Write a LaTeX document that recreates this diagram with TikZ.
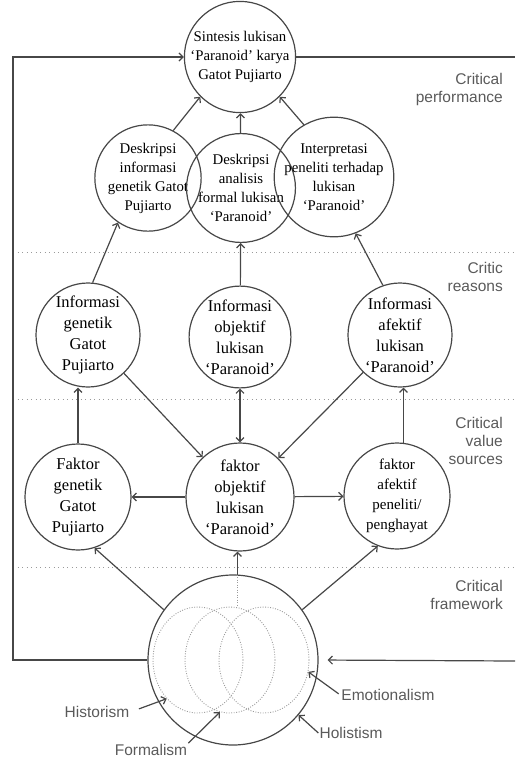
\documentclass[tikz,border=0pt]{standalone}
\usepackage{fontspec}
\setmainfont{Liberation Serif}
\newfontfamily\critfont{Liberation Sans}
\usetikzlibrary{shapes,arrows.meta}
\definecolor{linegray}{HTML}{474747}
\definecolor{labelgray}{HTML}{5A5A5A}
\definecolor{dotgray}{HTML}{9A9A9A}

\begin{document}
\begin{tikzpicture}[x=1pt,y=-1pt,
  ring/.style={shape=circle,draw=linegray,align=center,line width=1.2pt,inner sep=0pt,minimum size=#1},
  rowtop/.style={font=\fontsize{14.8}{19}\selectfont},
  rowlow/.style={font=\fontsize{16.5}{21}\selectfont},
  lens/.style={shape=ellipse,draw=dotgray,dash pattern=on 0.9pt off 1.6pt,line width=0.9pt,minimum width=90pt,minimum height=106pt,inner sep=0pt},
  sidelabel/.style={align=right,anchor=east,inner sep=0pt,text=labelgray,font=\critfont\fontsize{15.5}{18}\selectfont},
  taglabel/.style={inner sep=1pt,text=labelgray,font=\critfont\fontsize{15.5}{18}\selectfont},
  flow/.style={-{Straight Barb[length=4pt,width=8pt]},draw=linegray,line width=1.2pt},
  twoway/.style={{Straight Barb[length=4pt,width=8pt]}-{Straight Barb[length=4pt,width=8pt]},draw=linegray,line width=1.2pt},
  link/.style={-,draw=linegray,line width=1.2pt},
  sep/.style={draw=dotgray,dash pattern=on 1.2pt off 3.3pt,line width=1pt}]
\useasboundingbox (0,0) rectangle (515,758);
\node[ring=100pt,rowtop] (0) at (240,57) {Sintesis lukisan\\`Paranoid' karya\\Gatot Pujiarto};
\node[ring=102pt,rowtop] (1) at (148,178) {Deskripsi\\informasi\\genetik Gatot\\Pujiarto};
\node[ring=100pt,rowtop] (2) at (241,188) {Deskripsi\\analisis\\formal lukisan\\`Paranoid'};
\node[ring=102pt,rowtop] (3) at (334,177) {Interpretasi\\peneliti terhadap\\lukisan\\`Paranoid'};
\node[ring=104pt,rowlow] (4) at (88,335) {Informasi\\genetik\\Gatot\\Pujiarto};
\node[ring=100pt,rowlow] (5) at (240,337) {Informasi\\objektif\\lukisan\\`Paranoid'};
\node[ring=104pt,rowlow] (6) at (400,335) {Informasi\\afektif\\lukisan\\`Paranoid'};
\node[ring=106pt,rowlow] (7) at (78,497) {Faktor\\genetik\\Gatot\\Pujiarto};
\node[ring=108pt,rowlow] (8) at (240,497) {faktor\\objektif\\lukisan\\`Paranoid'};
\node[ring=106pt,font=\fontsize{15}{20}\selectfont] (9) at (397,496) {faktor\\afektif\\peneliti/\\penghayat};
\node[ring=170pt] (10) at (233,660) {};
\node[lens] (11) at (198,660) {};
\node[lens] (12) at (230,660) {};
\node[lens] (13) at (264,660) {};
\node[sidelabel] (14) at (503,89) {Critical\\performance};
\node[sidelabel] (15) at (503,277) {Critic\\reasons};
\node[sidelabel] (16) at (503,441) {Critical\\value\\sources};
\node[sidelabel] (17) at (503,595) {Critical\\framework};
\node[taglabel] (18) at (97,712) {Historism};
\node[taglabel] (19) at (151,750) {Formalism};
\node[taglabel] (20) at (388,695) {Emotionalism};
\node[taglabel] (21) at (351,733) {Holistism};
\coordinate (lb) at (13,660);
\coordinate (lt) at (13,57);
\coordinate (rt) at (515,57);
\coordinate (rb) at (515,661);

% row separators
\draw [sep] (13,252) -- (515,252);
\draw [sep] (13,399) -- (515,399);
\draw [sep] (13,567) -- (515,567);

\draw [flow] (1.62) -- (0.-135);
\draw [flow] (2) -- (0);
\draw [flow] (3.120) -- (0.-45);
\draw [flow] (4.85) -- (1.-124);
\draw [flow] (5) -- (2);
\draw [flow] (6.109) -- (3.-69);
\draw [flow] (4) -- (8);
\draw [flow] (6) -- (8);
\draw [twoway] (8) -- (5);
\draw [flow] (7.north) -- (7.north |- 4.south);
\draw [flow] (9.83) -- (9.83 |- 6.south);
\draw [flow] (8) -- (7);
\draw [flow] (8) -- (9);
\draw [flow] (10.144) -- (7.-72);
\draw [flow] (10.36) -- (9.-111);
\draw [flow] (10.87) -- (10.87 |- 8.south);
\draw [sep,dash pattern=on 0.9pt off 1.6pt] (10.87) -- (10.87 |- 12.north);

% feedback loop
\draw [flow] (10.west) -- (lb) -- (lt) -- (0.west);
\draw [link] (0.east) -- (rt);
\draw [flow,shorten >=9pt] (rb) -- (10.east);

\draw [flow,shorten <=9pt] (18.east) -- (11.-129);
\draw [flow] (19.north east) -- (12.-101);
\draw [flow,shorten <=2pt] (20.west) -- (13.-15);
\draw [flow] (21.west) -- (10.-40);
\end{tikzpicture}
\end{document}
